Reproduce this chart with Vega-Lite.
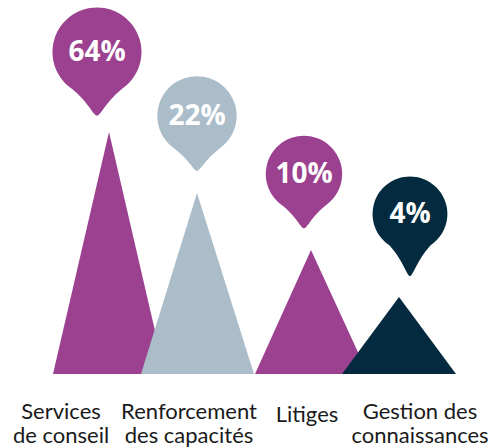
{
  "$schema": "https://vega.github.io/schema/vega-lite/v6.json",
  "width": 501,
  "height": 448,
  "autosize": {"type": "fit", "contains": "padding"},
  "padding": 0,
  "background": "white",
  "config": {"view": {"stroke": null}},
  "datasets": {
    "tri": [
      {"cat": "Services de conseil", "x": 53, "y": 0},
      {"cat": "Services de conseil", "x": 109, "y": 242},
      {"cat": "Services de conseil", "x": 165, "y": 0},
      {"cat": "Renforcement des capacités", "x": 141, "y": 0},
      {"cat": "Renforcement des capacités", "x": 197, "y": 181},
      {"cat": "Renforcement des capacités", "x": 254, "y": 0},
      {"cat": "Litiges", "x": 255, "y": 0},
      {"cat": "Litiges", "x": 311, "y": 124},
      {"cat": "Litiges", "x": 368, "y": 0},
      {"cat": "Gestion des connaissances", "x": 342, "y": 0},
      {"cat": "Gestion des connaissances", "x": 399, "y": 77},
      {"cat": "Gestion des connaissances", "x": 456, "y": 0}
    ],
    "pins": [
      {"cat": "Services de conseil", "pct": 64, "text": "64%", "x": 97, "y": 322},
      {"cat": "Renforcement des capacités", "pct": 22, "text": "22%", "x": 197, "y": 258},
      {"cat": "Litiges", "pct": 10, "text": "10%", "x": 304, "y": 200},
      {"cat": "Gestion des connaissances", "pct": 4, "text": "4%", "x": 410, "y": 160}
    ],
    "labels": [
      {"label": "Services\nde conseil", "x": 61, "y": -45},
      {"label": "Renforcement\ndes capacités", "x": 189, "y": -45},
      {"label": "Litiges", "x": 307, "y": -48},
      {"label": "Gestion des\nconnaissances", "x": 420, "y": -45}
    ]
  },
  "layer": [
    {
      "data": {"name": "tri"},
      "mark": {"type": "area", "opacity": 1, "strokeWidth": 0},
      "encoding": {
        "x": {"field": "x", "type": "quantitative", "axis": null, "scale": {"domain": [0, 501], "nice": false, "zero": false}},
        "y": {"field": "y", "type": "quantitative", "axis": null, "stack": null, "scale": {"domain": [-74, 374], "nice": false, "zero": false}},
        "color": {"field": "cat", "type": "nominal", "legend": null,
          "scale": {"domain": ["Services de conseil", "Renforcement des capacités", "Litiges", "Gestion des connaissances"],
                    "range": ["#9b4190", "#aabdc9", "#9b4190", "#032a3f"]}}
      }
    },
    {
      "data": {"name": "pins"},
      "mark": {"type": "point", "filled": true, "opacity": 1, "strokeWidth": 0},
      "encoding": {
        "x": {"field": "x", "type": "quantitative"},
        "y": {"field": "y", "type": "quantitative"},
        "color": {"field": "cat", "type": "nominal", "legend": null},
        "shape": {"field": "cat", "type": "nominal", "legend": null,
          "scale": {"domain": ["Services de conseil", "Renforcement des capacités", "Litiges", "Gestion des connaissances"],
            "range": [
              "M0,1.43 C-0.08,1.43 -0.2,1.12 -0.55,0.835 A1,1 0 1,1 0.55,0.835 C0.2,1.12 0.08,1.43 0,1.43 Z",
              "M0,1.38 C-0.08,1.38 -0.2,1.1 -0.55,0.835 A1,1 0 1,1 0.55,0.835 C0.2,1.1 0.08,1.38 0,1.38 Z",
              "M0,1.42 C-0.08,1.42 -0.2,1.12 -0.55,0.835 A1,1 0 1,1 0.55,0.835 C0.2,1.12 0.08,1.42 0,1.42 Z",
              "M0,1.66 C-0.08,1.66 -0.18,1.25 -0.55,0.835 A1,1 0 1,1 0.55,0.835 C0.18,1.25 0.08,1.66 0,1.66 Z"
            ]}},
        "size": {"field": "pct", "type": "quantitative", "legend": null, "scale": {"domain": [4, 64], "range": [5600, 7920]}}
      }
    },
    {
      "data": {"name": "pins"},
      "mark": {"type": "text", "color": "white", "font": "Open Sans", "fontWeight": "bold", "fontSize": 28, "align": "center", "baseline": "middle", "dy": 1},
      "encoding": {
        "x": {"field": "x", "type": "quantitative"},
        "y": {"field": "y", "type": "quantitative"},
        "text": {"field": "text"}
      }
    },
    {
      "data": {"name": "labels"},
      "mark": {"type": "text", "color": "#1a1a1a", "font": "Lato", "fontSize": 22, "align": "center", "baseline": "alphabetic", "lineBreak": "\n", "lineHeight": 24},
      "encoding": {
        "x": {"field": "x", "type": "quantitative"},
        "y": {"field": "y", "type": "quantitative"},
        "text": {"field": "label"}
      }
    }
  ]
}
